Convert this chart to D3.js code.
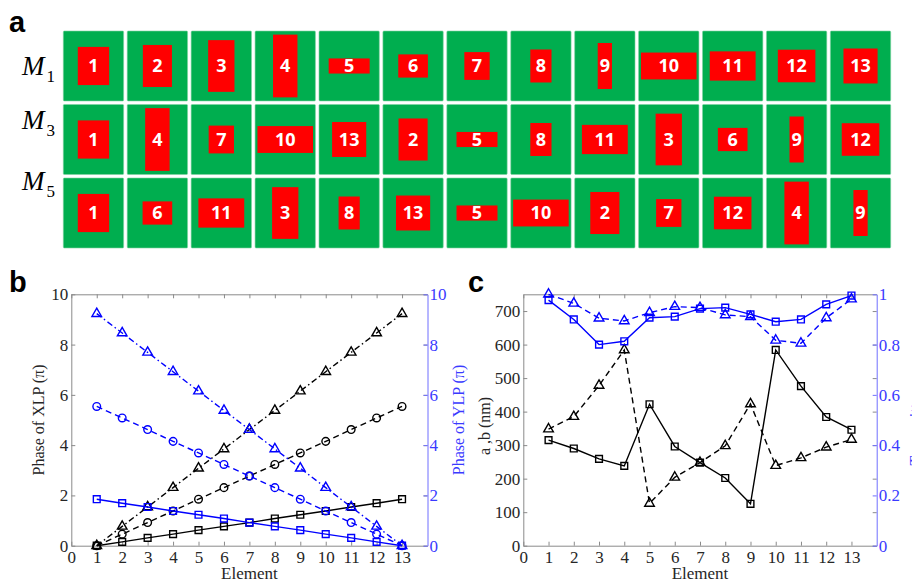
<!DOCTYPE html>
<html>
<head>
<meta charset="utf-8">
<script src="https://cdn.jsdelivr.net/npm/d3@7"></script>
<style>
body { margin: 0; background: #fff; }
svg { display: block; }
</style>
</head>
<body>
<svg id="chart" width="912" height="581"></svg>
<script>
// ---- data ----
const elements = [1, 2, 3, 4, 5, 6, 7, 8, 9, 10, 11, 12, 13];

// element dimensions in nm (a = width, b = height)
const sideA = [315, 290, 259, 238, 422, 296, 248, 202, 125, 584, 476, 384, 346];
const sideB = [348, 385, 478, 584, 126, 204, 248, 298, 423, 239, 262, 294, 317];

// transmittance of each element
const transSquare = [0.977, 0.900, 0.800, 0.813, 0.907, 0.911, 0.943, 0.947, 0.920, 0.891, 0.900, 0.960, 0.995];
const transTriangle = [1.000, 0.964, 0.905, 0.894, 0.927, 0.951, 0.947, 0.918, 0.911, 0.817, 0.805, 0.906, 0.981];

// phase (in pi) of XLP and YLP
const xlpSquare = [0, 0.15, 0.31, 0.46, 0.62, 0.77, 0.92, 1.08, 1.23, 1.38, 1.54, 1.69, 1.85];
const xlpCircle = [0, 0.46, 0.92, 1.38, 1.85, 2.31, 2.77, 3.23, 3.69, 4.15, 4.62, 5.08, 5.54];
const xlpTriangle = [0, 0.77, 1.54, 2.31, 3.08, 3.85, 4.62, 5.38, 6.15, 6.92, 7.69, 8.46, 9.23];
const ylpSquare = [1.85, 1.69, 1.54, 1.38, 1.23, 1.08, 0.92, 0.77, 0.62, 0.46, 0.31, 0.15, 0];
const ylpCircle = [5.54, 5.08, 4.62, 4.15, 3.69, 3.23, 2.77, 2.31, 1.85, 1.38, 0.92, 0.46, 0];
const ylpTriangle = [9.23, 8.46, 7.69, 6.92, 6.15, 5.38, 4.62, 3.85, 3.08, 2.31, 1.54, 0.77, 0];

// element order in each metasurface row
const rowNames = ['1', '3', '5'];
const orderM1 = [1, 2, 3, 4, 5, 6, 7, 8, 9, 10, 11, 12, 13];
const orderM3 = [1, 4, 7, 10, 13, 2, 5, 8, 11, 3, 6, 9, 12];
const orderM5 = [1, 6, 11, 3, 8, 13, 5, 10, 2, 7, 12, 4, 9];

// tick values
const elementTicks = [0, 1, 2, 3, 4, 5, 6, 7, 8, 9, 10, 11, 12, 13];
const phaseTicks = [0, 2, 4, 6, 8, 10];
const sizeTicks = [0, 100, 200, 300, 400, 500, 600, 700];
const transTicks = [0, 0.2, 0.4, 0.6, 0.8, 1];

// ---- styles ----
const GREEN = '#00ae4f';
const RED = '#ff0000';
const BLUE = '#0000ff';
const BLUE_AXIS = '#3a3aff';
const GRAY = '#8a8a8a';
const TEXT = '#262626';
const SERIF = '"Liberation Serif", "Times New Roman", serif';
const SANS = '"Liberation Sans", Arial, sans-serif';
const fmt = d3.format('~g');

const svg = d3.select('#chart');

// panel letters
function panelLetter(x, y, t) {
    svg.append('text')
        .attr('x', x).attr('y', y)
        .style('font-family', SANS)
        .style('font-weight', 'bold')
        .style('font-size', '29px')
        .attr('fill', '#000')
        .text(t);
}
panelLetter(9, 31.5, 'a');
panelLetter(9, 291.5, 'b');
panelLetter(468, 291.5, 'c');

// ---- panel a: element layout ----
const rows = [orderM1, orderM3, orderM5];

const colBand = d3.scaleBand()
    .domain(d3.range(13))
    .range([63.3, 890.7])
    .paddingInner(0.056);

const rowBand = d3.scaleBand()
    .domain(d3.range(3))
    .range([31, 248])
    .paddingInner(0.048);

// element size (nm) to pixels
const wScale = d3.scaleLinear().domain([0, 600]).range([3, 57]);
const hScale = d3.scaleLinear().domain([0, 600]).range([2, 64.4]);

const rowLabelDy = [44, 24, 12];

rows.forEach((order, r) => {
    const g = svg.append('g');
    const y0 = rowBand(r);
    const cells = g.selectAll('g.cell')
        .data(order)
        .enter()
        .append('g')
        .attr('class', 'cell')
        .attr('transform', (d, i) => `translate(${colBand(i)},${y0})`);

    cells.append('rect')
        .attr('width', colBand.bandwidth())
        .attr('height', rowBand.bandwidth())
        .attr('rx', 1)
        .attr('fill', GREEN)
        .attr('stroke', '#7fd4a3')
        .attr('stroke-width', 0.6);

    const cx = colBand.bandwidth() / 2;
    const cy = rowBand.bandwidth() / 2;

    cells.append('rect')
        .attr('x', d => cx - wScale(sideA[d - 1]) / 2)
        .attr('y', d => cy - hScale(sideB[d - 1]) / 2)
        .attr('width', d => wScale(sideA[d - 1]))
        .attr('height', d => hScale(sideB[d - 1]))
        .attr('fill', RED);

    cells.append('text')
        .attr('x', cx)
        .attr('y', cy)
        .attr('dy', '0.36em')
        .attr('text-anchor', 'middle')
        .style('font-family', '"Open Sans", sans-serif')
        .style('font-weight', 'bold')
        .style('font-size', '18px')
        .attr('fill', '#fff')
        .text(d => d);

    // row label M with subscript
    const lab = svg.append('text')
        .attr('x', 22)
        .attr('y', y0 + rowLabelDy[r])
        .style('font-family', SERIF)
        .attr('fill', '#000');
    lab.append('tspan')
        .style('font-style', 'italic')
        .style('font-size', '27px')
        .text('M');
    lab.append('tspan')
        .style('font-size', '17px')
        .attr('dx', 2)
        .attr('dy', 7)
        .text(rowNames[r]);
});

// ---- shared plotting helpers ----
const symbols = {
    square: d3.symbol().type(d3.symbolSquare).size(46),
    circle: d3.symbol().type(d3.symbolCircle).size(46),
    triangle: d3.symbol().type(d3.symbolTriangle).size(40)
};
const dashes = { solid: null, dash: '6,4', dashdot: '6,3,1.5,3' };

function drawSeries(g, x, y, values, color, marker, dash) {
    const pts = values.map((v, i) => [x(elements[i]), y(v)]);
    g.append('path')
        .datum(pts)
        .attr('fill', 'none')
        .attr('stroke', color)
        .attr('stroke-width', 1.4)
        .attr('stroke-dasharray', dashes[dash])
        .attr('d', d3.line());
    g.selectAll(null)
        .data(pts)
        .enter()
        .append('path')
        .attr('transform', d => `translate(${d[0]},${d[1]})`)
        .attr('d', symbols[marker]())
        .attr('fill', 'none')
        .attr('stroke', color)
        .attr('stroke-width', 1.4);
}

function styleAxis(sel, lineColor, textColor) {
    sel.attr('font-family', SERIF).attr('font-size', 17);
    sel.selectAll('path.domain').attr('stroke', lineColor).attr('stroke-width', 1);
    sel.selectAll('.tick line').attr('stroke', lineColor).attr('stroke-width', 1);
    sel.selectAll('.tick text')
        .attr('fill', textColor)
        .style('font-family', SERIF)
        .style('font-size', '17px');
}

function drawFrame(box, x, yL, yR, leftTicks, rightTicks) {
    const g = svg.append('g');
    const tick = 4;

    // bottom and top
    const bottom = g.append('g')
        .attr('transform', `translate(0,${box.bottom})`)
        .call(d3.axisBottom(x).tickValues(elementTicks).tickFormat(fmt)
            .tickSize(-tick).tickSizeOuter(0).tickPadding(5));
    styleAxis(bottom, GRAY, TEXT);

    const top = g.append('g')
        .attr('transform', `translate(0,${box.top})`)
        .call(d3.axisTop(x).tickValues(elementTicks).tickSize(-tick).tickSizeOuter(0).tickFormat(''));
    styleAxis(top, GRAY, TEXT);

    // left axis
    const left = g.append('g')
        .attr('transform', `translate(${box.left},0)`)
        .call(d3.axisLeft(yL).tickValues(leftTicks).tickFormat(fmt)
            .tickSize(-tick).tickSizeOuter(0).tickPadding(3));
    styleAxis(left, GRAY, TEXT);

    // mirrored left ticks on the right side
    g.append('g')
        .attr('transform', `translate(${box.right},0)`)
        .call(d3.axisRight(yL).tickValues(leftTicks).tickSize(-tick).tickSizeOuter(0).tickFormat(''))
        .call(s => styleAxis(s, GRAY, TEXT))
        .select('path.domain').remove();

    // right axis
    const right = g.append('g')
        .attr('transform', `translate(${box.right},0)`)
        .call(d3.axisRight(yR).tickValues(rightTicks).tickFormat(fmt)
            .tickSize(-tick).tickSizeOuter(0).tickPadding(2));
    styleAxis(right, '#6f6fff', BLUE_AXIS);
    return g;
}

function axisTitle(x, y, text, color, rotate) {
    svg.append('text')
        .attr('transform', `translate(${x},${y})` + (rotate ? ' rotate(-90)' : ''))
        .attr('text-anchor', 'middle')
        .style('font-family', SERIF)
        .style('font-size', rotate ? '16px' : '17px')
        .attr('fill', color)
        .text(text);
}

// ---- panel b: phase ----
const boxB = { left: 71.3, right: 427.5, top: 294.3, bottom: 545.7 };
const xB = d3.scaleLinear().domain([0, 14]).range([boxB.left, boxB.right]);
const yB = d3.scaleLinear().domain([0, 10]).range([boxB.bottom, boxB.top]);

drawFrame(boxB, xB, yB, yB, phaseTicks, phaseTicks);

const gB = svg.append('g');
drawSeries(gB, xB, yB, xlpSquare, '#000', 'square', 'solid');
drawSeries(gB, xB, yB, xlpCircle, '#000', 'circle', 'dash');
drawSeries(gB, xB, yB, xlpTriangle, '#000', 'triangle', 'dashdot');
drawSeries(gB, xB, yB, ylpSquare, BLUE, 'square', 'solid');
drawSeries(gB, xB, yB, ylpCircle, BLUE, 'circle', 'dash');
drawSeries(gB, xB, yB, ylpTriangle, BLUE, 'triangle', 'dashdot');

axisTitle(44, 420, 'Phase of XLP (\u03c0)', TEXT, true);
axisTitle(464, 420, 'Phase of YLP (\u03c0)', BLUE_AXIS, true);
axisTitle((boxB.left + boxB.right) / 2, 579, 'Element', TEXT, false);

// ---- panel c: size and transmittance ----
const boxC = { left: 523.3, right: 876.7, top: 294.3, bottom: 545.7 };
const xC = d3.scaleLinear().domain([0, 14]).range([boxC.left, boxC.right]);
const yC = d3.scaleLinear().domain([0, 750]).range([boxC.bottom, boxC.top]);
const yT = d3.scaleLinear().domain([0, 1]).range([boxC.bottom, boxC.top]);

drawFrame(boxC, xC, yC, yT, sizeTicks, transTicks);

const gC = svg.append('g');
drawSeries(gC, xC, yC, sideA, '#000', 'square', 'solid');
drawSeries(gC, xC, yC, sideB, '#000', 'triangle', 'dash');
drawSeries(gC, xC, yT, transSquare, BLUE, 'square', 'solid');
drawSeries(gC, xC, yT, transTriangle, BLUE, 'triangle', 'dash');

axisTitle(490, 426, 'a ,b (nm)', TEXT, true);
axisTitle(921, 420, 'Transmittance', BLUE_AXIS, true);
axisTitle((boxC.left + boxC.right) / 2, 579, 'Element', TEXT, false);
</script>
</body>
</html>
